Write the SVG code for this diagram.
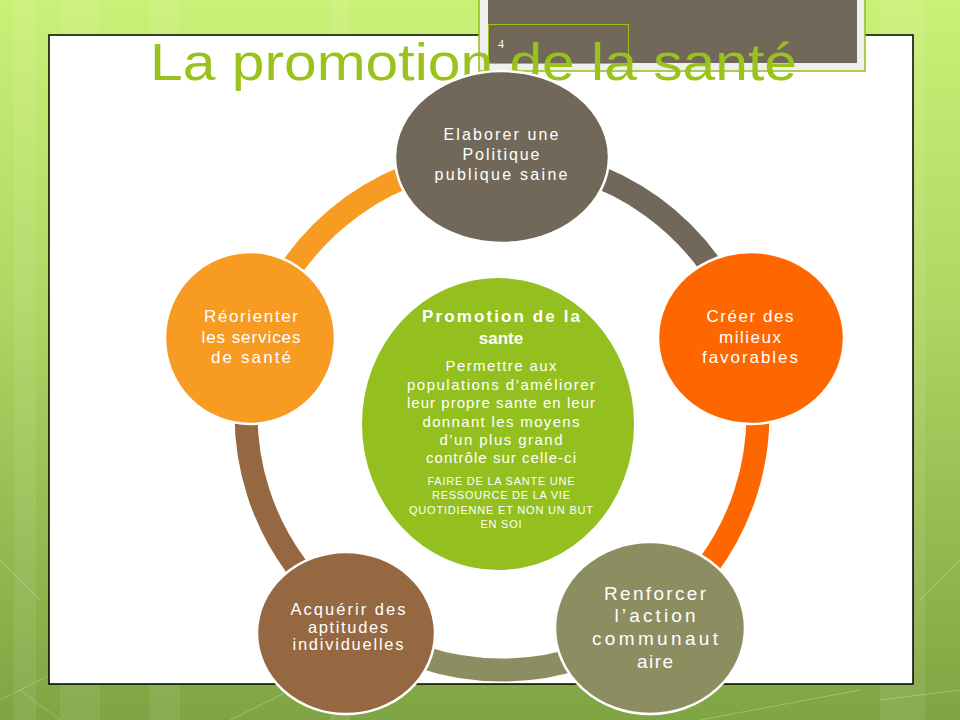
<svg xmlns="http://www.w3.org/2000/svg" width="960" height="720" viewBox="0 0 960 720">
<defs>
<linearGradient id="bg" x1="0" y1="0" x2="0" y2="1">
<stop offset="0" stop-color="#c9f176"/>
<stop offset="0.4" stop-color="#b0d964"/>
<stop offset="1" stop-color="#7fa443"/>
</linearGradient>
</defs>
<style>
.lbl{font-family:"Liberation Sans",Arial,sans-serif;fill:#fff;text-anchor:middle}
.ring{fill:none;stroke-width:23}
.node{stroke:#fff;stroke-width:2.5}
.stripe{fill:#fff;opacity:0.08}
.diag{stroke:#fff;stroke-width:1;opacity:0.25;fill:none}
</style>
<rect x="0" y="0" width="960" height="720" fill="url(#bg)"/>
<rect class="stripe" x="14" y="0" width="22" height="720"/>
<rect class="stripe" x="60" y="0" width="40" height="720"/>
<rect class="stripe" x="150" y="0" width="30" height="720"/>
<rect class="stripe" x="330" y="0" width="20" height="720"/>
<rect class="stripe" x="880" y="0" width="45" height="720"/>
<path class="diag" d="M0,700 L120,640 M60,720 L20,690 M700,720 L860,690 M880,700 L960,690 M230,720 L290,690 M920,600 L960,560 M0,560 L40,600"/>
<rect x="49" y="35" width="864" height="649" fill="#fff" stroke="#000" stroke-width="1.5"/>
<g id="slide-number-box">
<rect x="479" y="-4" width="386" height="75" fill="#efefef" stroke="#8fbf1a" stroke-width="1.5"/>
<rect x="488" y="0" width="369" height="63" fill="#72685a"/>
<rect x="488.5" y="24.5" width="140" height="39" fill="none" stroke="#99c31c" stroke-width="1"/>
<text x="498" y="48" font-family="Liberation Serif, serif" font-size="12" fill="#fff">4</text>
</g>
<text id="title" x="150" y="80" font-family="Liberation Sans, Arial, sans-serif" font-size="52" fill="#99c31c" textLength="647" lengthAdjust="spacingAndGlyphs">La promotion de la santé</text>
<g id="connectors">
<path class="ring" stroke="#72685a" d="M502,158 A256,256 0 0 1 745.5,334.9"/>
<path class="ring" stroke="#fe6600" d="M745.5,334.9 A256,256 0 0 1 652.5,621.1"/>
<path class="ring" stroke="#8d8d62" d="M652.5,621.1 A256,256 0 0 1 351.5,621.1"/>
<path class="ring" stroke="#956842" d="M351.5,621.1 A256,256 0 0 1 258.5,334.9"/>
<path class="ring" stroke="#f89b22" d="M258.5,334.9 A256,256 0 0 1 502,158"/>
</g>
<g id="center">
<ellipse cx="498" cy="424" rx="136" ry="146" fill="#93c01f"/>
<text class="lbl" x="501" y="322" font-size="17" font-weight="bold" textLength="158">Promotion de la</text>
<text class="lbl" x="501" y="344" font-size="17" font-weight="bold">sante</text>
<text class="lbl" x="501" y="371" font-size="15" textLength="111">Permettre aux</text>
<text class="lbl" x="501" y="390" font-size="15" textLength="188">populations d’améliorer</text>
<text class="lbl" x="501" y="408" font-size="15" textLength="188">leur propre sante en leur</text>
<text class="lbl" x="501" y="427" font-size="15" textLength="157">donnant les moyens</text>
<text class="lbl" x="501" y="445" font-size="15" textLength="123">d’un plus grand</text>
<text class="lbl" x="501" y="463" font-size="15" textLength="150">contrôle sur celle-ci</text>
<text class="lbl" x="501" y="485" font-size="11" textLength="147">FAIRE DE LA SANTE UNE</text>
<text class="lbl" x="501" y="499" font-size="11" textLength="138">RESSOURCE DE LA VIE</text>
<text class="lbl" x="501" y="514" font-size="11" textLength="184">QUOTIDIENNE ET NON UN BUT</text>
<text class="lbl" x="501" y="528" font-size="11" textLength="41">EN SOI</text>
</g>
<g id="node-top">
<ellipse class="node" cx="502" cy="157" rx="107" ry="86" fill="#72685a"/>
<text class="lbl" x="501" y="140" font-size="16" textLength="115">Elaborer une</text>
<text class="lbl" x="501" y="160" font-size="16" textLength="77">Politique</text>
<text class="lbl" x="501" y="180" font-size="16" textLength="133">publique saine</text>
</g>
<g id="node-right">
<ellipse class="node" cx="751" cy="338" rx="93" ry="86" fill="#fe6600"/>
<text class="lbl" x="750" y="322" font-size="17" textLength="87">Créer des</text>
<text class="lbl" x="750" y="343" font-size="17" textLength="62">milieux</text>
<text class="lbl" x="750" y="363" font-size="17" textLength="96">favorables</text>
</g>
<g id="node-bottom-right">
<ellipse class="node" cx="650" cy="628" rx="95" ry="86" fill="#8d8d62"/>
<text class="lbl" x="655" y="600" font-size="19" textLength="102">Renforcer</text>
<text class="lbl" x="655" y="622" font-size="19" textLength="81">l’action</text>
<text class="lbl" x="655" y="645" font-size="19" textLength="126">communaut</text>
<text class="lbl" x="655" y="668" font-size="19" textLength="36">aire</text>
</g>
<g id="node-bottom-left">
<ellipse class="node" cx="346" cy="633" rx="89" ry="81" fill="#956842"/>
<text class="lbl" x="348" y="615" font-size="16.5" textLength="115">Acquérir des</text>
<text class="lbl" x="348" y="633" font-size="16.5" textLength="80">aptitudes</text>
<text class="lbl" x="348" y="650" font-size="16.5" textLength="111">individuelles</text>
</g>
<g id="node-left">
<ellipse class="node" cx="250" cy="338" rx="85" ry="86" fill="#f89b22"/>
<text class="lbl" x="251" y="322" font-size="17" textLength="94">Réorienter</text>
<text class="lbl" x="251" y="343" font-size="17" textLength="99">les services</text>
<text class="lbl" x="251" y="363" font-size="17" textLength="80">de santé</text>
</g>
</svg>
